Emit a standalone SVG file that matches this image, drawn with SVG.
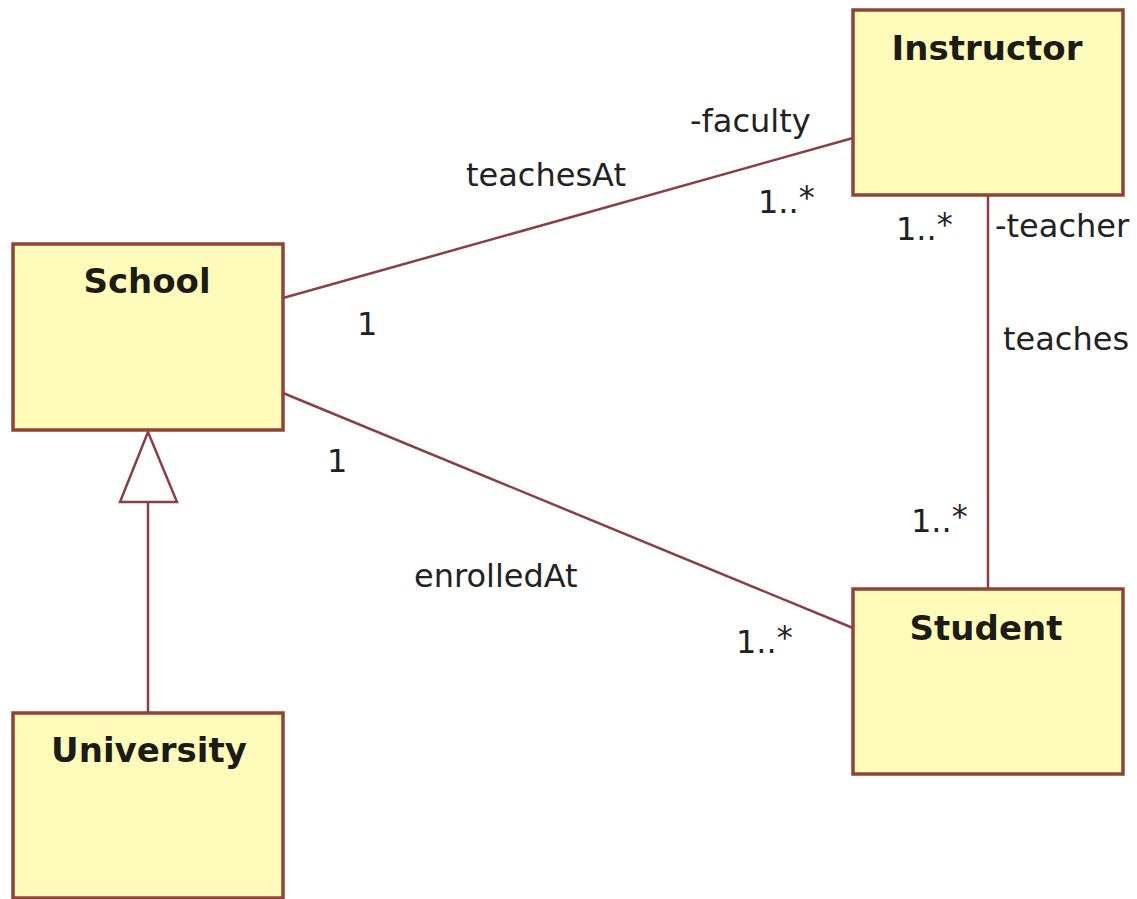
<svg xmlns="http://www.w3.org/2000/svg" width="1137" height="899" viewBox="0 0 1137 899">
  <style>
    .cls { fill: #FFFCBB; stroke: #8E4436; stroke-width: 3.5; }
    .title { font-family: "DejaVu Sans", Verdana, sans-serif; font-weight: bold; font-size: 34px; fill: #1c1c14; text-anchor: middle; }
    .lbl { font-family: "DejaVu Sans", Verdana, sans-serif; font-size: 32px; fill: #222; }
    .assoc { fill: none; stroke: #8A3F45; stroke-width: 2.5; }
    .gen { fill: #ffffff; stroke: #8A3F45; stroke-width: 2.5; }
  </style>
  <rect width="1137" height="899" fill="#ffffff"/>

  <!-- associations and generalization -->
  <g id="connectors">
    <line class="assoc" x1="283" y1="298" x2="853" y2="138"/>
    <line class="assoc" x1="283" y1="393" x2="853" y2="628"/>
    <line class="assoc" x1="988" y1="195" x2="988" y2="589"/>
    <line class="assoc" x1="148" y1="502" x2="148" y2="713"/>
    <polygon class="gen" points="148,432 120,502 177,502"/>

    <text class="lbl" x="690" y="132">-faculty</text>
    <text class="lbl" x="466" y="186">teachesAt</text>
    <text class="lbl" x="758" y="213">1..<tspan dy="-5">*</tspan></text>
    <text class="lbl" x="357" y="335">1</text>
    <text class="lbl" x="896" y="240">1..<tspan dy="-5">*</tspan></text>
    <text class="lbl" x="995" y="237">-teacher</text>
    <text class="lbl" x="1003" y="350">teaches</text>
    <text class="lbl" x="327" y="472">1</text>
    <text class="lbl" x="911" y="532">1..<tspan dy="-5">*</tspan></text>
    <text class="lbl" x="414" y="587">enrolledAt</text>
    <text class="lbl" x="736" y="653">1..<tspan dy="-5">*</tspan></text>
  </g>

  <g id="school">
    <rect class="cls" x="13" y="244" width="270" height="186"/>
    <text class="title" x="147" y="293">School</text>
  </g>

  <g id="instructor">
    <rect class="cls" x="853" y="10" width="270" height="185"/>
    <text class="title" x="987" y="60">Instructor</text>
  </g>

  <g id="student">
    <rect class="cls" x="853" y="589" width="270" height="185"/>
    <text class="title" x="986" y="640">Student</text>
  </g>

  <g id="university">
    <rect class="cls" x="13" y="713" width="270" height="185"/>
    <text class="title" x="149" y="762">University</text>
  </g>
</svg>
